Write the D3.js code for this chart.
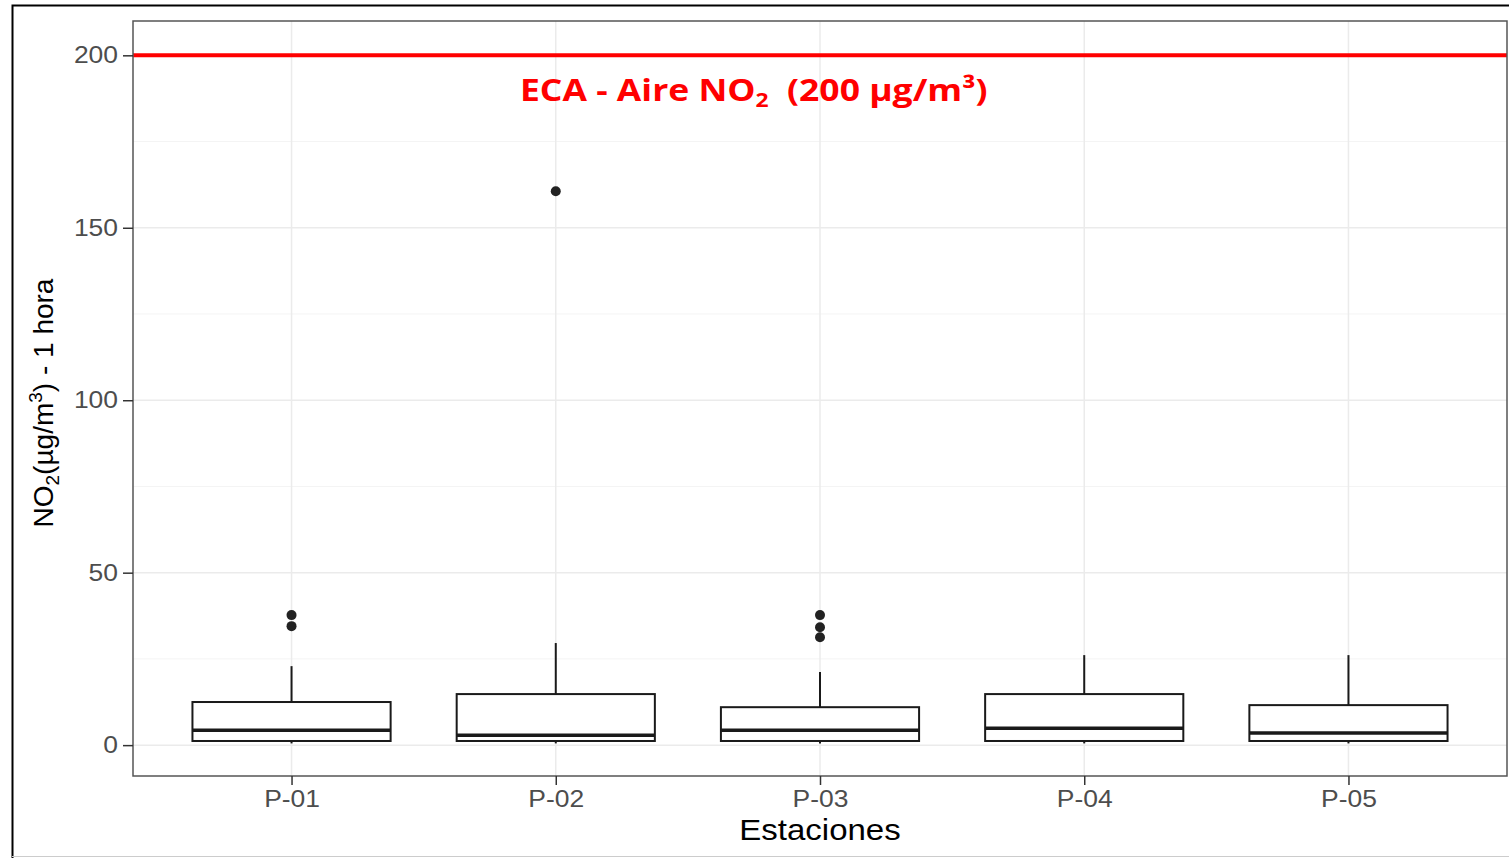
<!DOCTYPE html>
<html><head><meta charset="utf-8">
<script src="https://cdn.jsdelivr.net/npm/d3@7"></script>
<style>body{margin:0;background:#fff}svg{display:block}</style>
</head><body>
<script>
const stations = ["P-01","P-02","P-03","P-04","P-05"];
const q1 =      [1.2, 1.2, 1.2, 1.2, 1.2];
const medians = [4.3, 2.9, 4.3, 4.9, 3.5];
const q3 =      [12.5, 14.8, 11.0, 14.8, 11.6];
const whiskLo = [0.5, 0.5, 0.5, 0.5, 0.5];
const whiskHi = [22.9, 29.6, 21.2, 26.1, 26.1];
const outliers = [[37.7, 34.5], [160.6], [37.7, 34.2, 31.3], [], []];
const yTicks = [0, 50, 100, 150, 200];
const limitValue = 200;

const W = 1509, H = 858;
const FONT = "Liberation Sans, Arial, sans-serif";
const svg = d3.select("body").append("svg").attr("width", W).attr("height", H);
svg.append("rect").attr("width", W).attr("height", H).attr("fill", "#fff");

// outer frame
svg.append("path").attr("d", `M12.5,${H} V5.5 H${W}`).attr("fill","none").attr("stroke","#000").attr("stroke-width",2);
svg.append("line").attr("x1",12).attr("x2",W).attr("y1",856.5).attr("y2",856.5).attr("stroke","#ccc").attr("stroke-width",1);

const L = 133, R = 1507, T = 21, B = 776;
const y = d3.scaleLinear().domain([-8.95, 209.95]).range([B, T]);
const unit = (R - L) / 5.2;
const x = d3.scalePoint().domain(stations).range([L + unit * 0.6, L + unit * 4.6]);
const boxW = unit * 0.75;

const g = svg.append("g");
const minor = [25, 75, 125, 175];
g.selectAll(".minor").data(minor).join("line")
  .attr("x1", L).attr("x2", R).attr("y1", d => y(d)).attr("y2", d => y(d))
  .attr("stroke", "#f4f4f4").attr("stroke-width", 1);
g.selectAll(".gy").data(yTicks).join("line")
  .attr("x1", L).attr("x2", R).attr("y1", d => y(d)).attr("y2", d => y(d))
  .attr("stroke", "#ebebeb").attr("stroke-width", 1.5);
g.selectAll(".gx").data(stations).join("line")
  .attr("x1", d => x(d)).attr("x2", d => x(d)).attr("y1", T).attr("y2", B)
  .attr("stroke", "#ebebeb").attr("stroke-width", 1.5);

stations.forEach((s, i) => {
  const c = x(s);
  g.append("line").attr("x1", c).attr("x2", c).attr("y1", y(q3[i])).attr("y2", y(whiskHi[i]))
    .attr("stroke", "#1a1a1a").attr("stroke-width", 2);
  g.append("line").attr("x1", c).attr("x2", c).attr("y1", y(q1[i])).attr("y2", y(whiskLo[i]))
    .attr("stroke", "#1a1a1a").attr("stroke-width", 2);
  g.append("rect").attr("x", c - boxW/2).attr("width", boxW)
    .attr("y", y(q3[i])).attr("height", y(q1[i]) - y(q3[i]))
    .attr("fill", "#fff").attr("stroke", "#1a1a1a").attr("stroke-width", 2);
  g.append("line").attr("x1", c - boxW/2).attr("x2", c + boxW/2)
    .attr("y1", y(medians[i])).attr("y2", y(medians[i]))
    .attr("stroke", "#1a1a1a").attr("stroke-width", 3.5);
  g.selectAll(null).data(outliers[i]).join("circle")
    .attr("cx", c).attr("cy", d => y(d)).attr("r", 5).attr("fill", "#222");
});

g.append("line").attr("x1", L).attr("x2", R).attr("y1", y(limitValue)).attr("y2", y(limitValue))
  .attr("stroke", "#f00").attr("stroke-width", 4);

svg.append("rect").attr("x", L).attr("y", T).attr("width", R - L).attr("height", B - T)
  .attr("fill", "none").attr("stroke", "#555").attr("stroke-width", 1.5);

// axes
const yAxis = d3.axisLeft(y).tickValues(yTicks).tickSize(10).tickPadding(5);
const ya = svg.append("g").attr("transform", `translate(${L},0)`).call(yAxis);
ya.select(".domain").remove();
ya.selectAll("line").attr("stroke", "#333").attr("stroke-width", 1.5);
ya.selectAll("text").attr("fill", "#4d4d4d").attr("font-family", FONT).attr("font-size", 23)
  .attr("transform", "translate(-15,0) scale(1.15,1) translate(15,0)");

const xAxis = d3.axisBottom(x).tickSize(9).tickPadding(6);
const xa = svg.append("g").attr("transform", `translate(0,${B})`).call(xAxis);
xa.select(".domain").remove();
xa.selectAll("line").attr("stroke", "#333").attr("stroke-width", 1.5);
xa.selectAll("text").attr("fill", "#4d4d4d").attr("font-family", FONT).attr("font-size", 23)
  .attr("transform", "scale(1.15,1)");

// axis titles
svg.append("text").attr("transform", `translate(${(L + R) / 2},840) scale(1.1,1)`).attr("text-anchor", "middle")
  .attr("font-family", FONT).attr("font-size", 30).attr("fill", "#000")
  .text("Estaciones");

const yt = svg.append("text").attr("transform", `translate(53,403) rotate(-90)`)
  .attr("text-anchor", "middle").attr("font-family", FONT)
  .attr("font-size", 28).attr("fill", "#000");
yt.append("tspan").text("NO");
yt.append("tspan").attr("font-size", 19).attr("dy", 6).text("2");
yt.append("tspan").attr("dy", -6).text("(µg/m");
yt.append("tspan").attr("font-size", 19).attr("dy", -11).text("3");
yt.append("tspan").attr("dy", 11).text(") - 1 hora");

// annotation
const ann = svg.append("text").attr("transform", "translate(520,101) scale(1.145,1)")
  .attr("font-family", "Open Sans, sans-serif").attr("font-weight", "bold")
  .attr("font-size", 31).attr("fill", "#f00");
ann.append("tspan").text("ECA - Aire NO");
ann.append("tspan").attr("font-size", 20).attr("dy", 6).text("2");
ann.append("tspan").attr("dy", -6).text("\u00a0\u00a0(200 µg/m³)");
</script>
</body></html>
